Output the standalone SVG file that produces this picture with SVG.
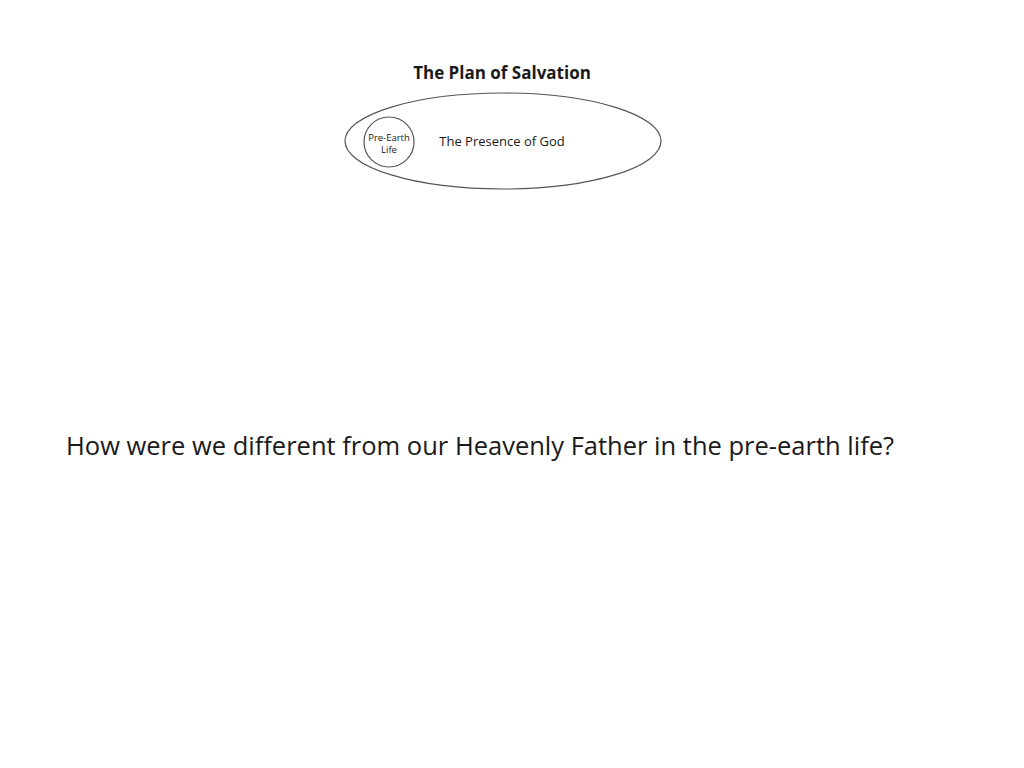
<svg xmlns="http://www.w3.org/2000/svg" width="1024" height="768" viewBox="0 0 1024 768">
<style>
.t{font-family:"Open Sans","Liberation Sans",sans-serif;fill:#1a1a1a}
.s{fill:none;stroke:#555;stroke-width:1.2}
</style>
<rect width="1024" height="768" fill="#fff"/>
<text class="t" x="502" y="79" text-anchor="middle" font-size="17" font-weight="bold">The Plan of Salvation</text>
<g id="presence">
<ellipse class="s" cx="503" cy="141" rx="158" ry="48"/>
<text class="t" x="502" y="146" text-anchor="middle" font-size="13">The Presence of God</text>
</g>
<g id="preearth">
<circle class="s" cx="389" cy="142" r="25"/>
<text class="t" x="389" y="141" text-anchor="middle" font-size="9.5">Pre-Earth</text>
<text class="t" x="389" y="153" text-anchor="middle" font-size="9.5">Life</text>
</g>
<g id="connectors"/>
<text class="t" x="66" y="455" font-size="25.5" fill="#111">How were we different from our Heavenly Father in the pre-earth life?</text>
</svg>
